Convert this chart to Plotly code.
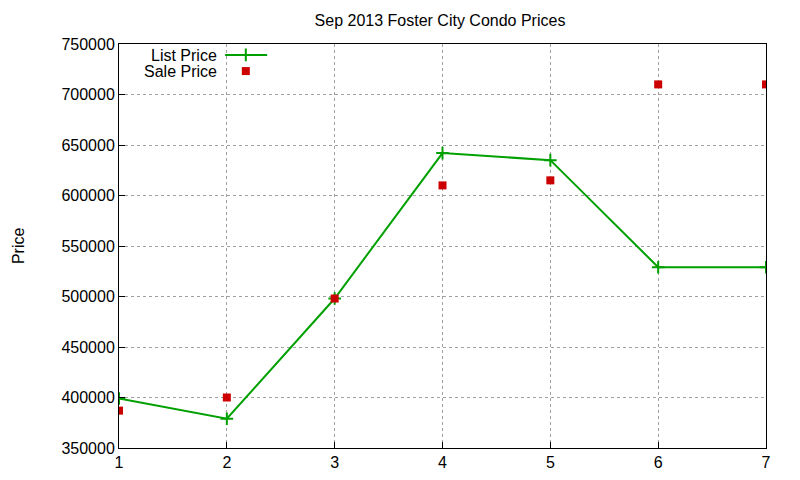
import plotly.graph_objects as go

# data
weeks = [1, 2, 3, 4, 5, 6, 7]
list_price = [399000, 379000, 498000, 642000, 635000, 529000, 529000]
sale_price = [387000, 400000, 498000, 610000, 615000, 710000, 710000]

GREEN = "#00a000"
RED = "#cc0000"
FONT = "Liberation Sans, Arial, sans-serif"

fig = go.Figure()

fig.add_trace(go.Scatter(
    x=weeks, y=list_price, mode="lines+markers", name="List Price",
    line=dict(color=GREEN, width=2),
    marker=dict(symbol="cross-thin", size=9, line=dict(color=GREEN, width=2)),
    showlegend=False,
))
fig.add_trace(go.Scatter(
    x=weeks, y=sale_price, mode="markers", name="Sale Price",
    marker=dict(symbol="square", size=8, color=RED),
    showlegend=False,
))

# gnuplot-style key: text on the left, sample on the right
fig.add_trace(go.Scatter(
    x=[0.164, 0.196, 0.229], y=[0.973, 0.973, 0.973], mode="lines",
    line=dict(color=GREEN, width=2), xaxis="x2", yaxis="y2",
    showlegend=False, hoverinfo="skip",
))
fig.add_trace(go.Scatter(
    x=[0.196], y=[0.973], mode="markers", xaxis="x2", yaxis="y2",
    marker=dict(symbol="cross-thin", size=9, line=dict(color=GREEN, width=2)),
    showlegend=False, hoverinfo="skip",
))
fig.add_trace(go.Scatter(
    x=[0.196], y=[0.933], mode="markers", xaxis="x2", yaxis="y2",
    marker=dict(symbol="square", size=8, color=RED),
    showlegend=False, hoverinfo="skip",
))

axis_common = dict(
    showline=True, linecolor="black", linewidth=1, mirror=True,
    ticks="inside", ticklen=6, tickcolor="black",
    showgrid=True, gridcolor="#a0a0a0", griddash="dot", gridwidth=1,
    zeroline=False, automargin=False, tickfont=dict(size=16, color="black"),
)

fig.update_layout(
    width=800, height=480,
    paper_bgcolor="white", plot_bgcolor="white",
    font=dict(family=FONT, color="black", size=16),
    margin=dict(l=111, r=42, t=36, b=40),
    title=dict(text="Sep 2013 Foster City Condo Prices", x=0.54, xanchor="center",
               y=0.975, yanchor="middle", font=dict(size=16)),
    xaxis=dict(range=[1, 7], tickvals=weeks, **axis_common),
    yaxis=dict(range=[350000, 750000], dtick=50000, tickformat="d", **axis_common),
    xaxis2=dict(range=[0, 1], overlaying="x", visible=False),
    yaxis2=dict(range=[0, 1], overlaying="y", visible=False),
    annotations=[
        dict(text="List Price", xref="paper", yref="paper", x=0.155, y=0.971,
             xanchor="right", yanchor="middle", showarrow=False, font=dict(size=16)),
        dict(text="Sale Price", xref="paper", yref="paper", x=0.155, y=0.931,
             xanchor="right", yanchor="middle", showarrow=False, font=dict(size=16)),
        dict(text="Price", xref="paper", yref="paper", x=-0.156, y=0.5,
             xanchor="center", yanchor="middle", textangle=-90,
             showarrow=False, font=dict(size=16)),
    ],
)

fig.write_html("out.html")
